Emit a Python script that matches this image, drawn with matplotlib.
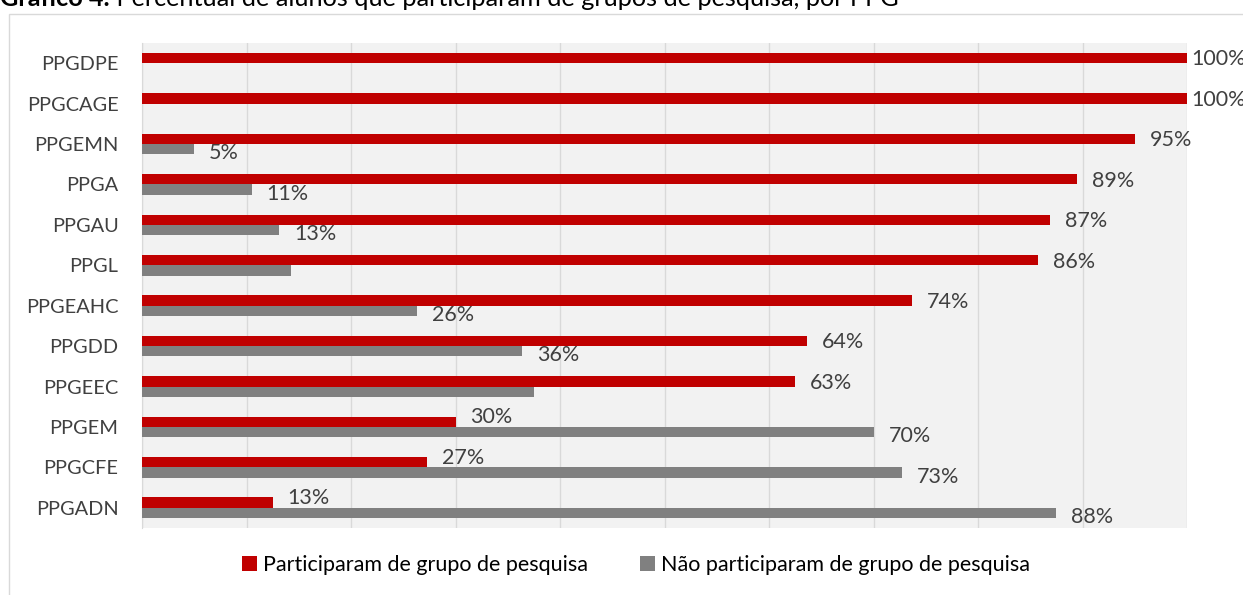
import matplotlib
matplotlib.use("Agg")
import matplotlib.pyplot as plt
from matplotlib.patches import Rectangle

# ------------------------------------------------------------
# dados
# ------------------------------------------------------------
programas = ["PPGDPE", "PPGCAGE", "PPGEMN", "PPGA", "PPGAU", "PPGL",
             "PPGEAHC", "PPGDD", "PPGEEC", "PPGEM", "PPGCFE", "PPGADN"]
participaram = [100, 100, 95, 89.5, 86.9, 85.7, 73.7, 63.6, 62.5, 30, 27.3, 12.5]
nao_participaram = [0, 0, 5, 10.5, 13.1, 14.3, 26.3, 36.4, 37.5, 70, 72.7, 87.5]
rotulos_part = ["100%", "100%", "95%", "89%", "87%", "86%",
                "74%", "64%", "63%", "30%", "27%", "13%"]
rotulos_nao = ["", "", "5%", "11%", "13%", "", "26%", "36%", "", "70%", "73%", "88%"]

titulo_neg = "Gráfico 4."
titulo = " Percentual de alunos que participaram de grupos de pesquisa, por PPG"
legenda = ["Participaram de grupo de pesquisa", "Não participaram de grupo de pesquisa"]

VERMELHO = "#C00000"
CINZA = "#808080"
TEXTO = "#404040"

plt.rcParams["font.family"] = ["Lato", "DejaVu Sans"]

W, H = 1243, 595
fig = plt.figure(figsize=(W / 100, H / 100), dpi=100)

# moldura do gráfico
fig.patches.append(Rectangle((9 / W, -0.1), 1.2, 1 - 14 / H + 0.1,
                             transform=fig.transFigure, fill=False,
                             edgecolor="#D9D9D9", linewidth=1))

# título (cortado no topo, como no original)
t = fig.text(0.0, 1 - 6 / H, titulo_neg, fontsize=18.2, fontweight="bold",
             color="black", va="baseline", ha="left")
fig.canvas.draw()
bb = t.get_window_extent()
fig.text(bb.x1 / W, 1 - 6 / H, titulo, fontsize=18.2, color="black",
         va="baseline", ha="left")

ax = fig.add_axes([142 / W, 1 - 528 / H, (1187 - 142) / W, (528 - 43) / H])
ax.set_facecolor("#F2F2F2")

y = list(range(len(programas)))
h = 0.255
ax.barh([v - h / 2 for v in y], participaram, height=h, color=VERMELHO,
        label=legenda[0], zorder=3)
ax.barh([v + h / 2 for v in y], nao_participaram, height=h, color=CINZA,
        label=legenda[1], zorder=3)

for i in y:
    off = 4 if participaram[i] >= 100 else 15
    # quando a barra cinza passa por baixo do rótulo, ele sobe um pouco
    dy = 3.3 if nao_participaram[i] > participaram[i] else -1
    ax.annotate(rotulos_part[i], (participaram[i], i - h / 2),
                xytext=(off * 0.72, dy), textcoords="offset points",
                ha="left", va="center", fontsize=15.5, color=TEXTO,
                annotation_clip=False)
    if rotulos_nao[i]:
        ax.annotate(rotulos_nao[i], (nao_participaram[i], i + h / 2),
                    xytext=(15 * 0.72, -3), textcoords="offset points",
                    ha="left", va="center", fontsize=15.5, color=TEXTO,
                    annotation_clip=False)

ax.set_xlim(0, 100)
ax.set_ylim(len(programas) - 0.5, -0.5)
ax.set_xticks(range(0, 101, 10))
ax.set_xticklabels([])
ax.set_yticks(y)
ax.set_yticklabels(programas, fontsize=14.4, color=TEXTO)
ax.tick_params(axis="both", length=0)
ax.tick_params(axis="y", pad=17)
ax.grid(axis="x", color="#D9D9D9", linewidth=1, zorder=0)
for s in ["top", "right", "bottom"]:
    ax.spines[s].set_visible(False)
ax.spines["left"].set_color("#D9D9D9")

fig.legend(loc="center", bbox_to_anchor=(636 / W, 1 - 565 / H), ncol=2,
           frameon=False, fontsize=15.5, handlelength=0.7, handleheight=0.7,
           handletextpad=0.3, columnspacing=2.4)

fig.savefig("out.png", dpi=100)
